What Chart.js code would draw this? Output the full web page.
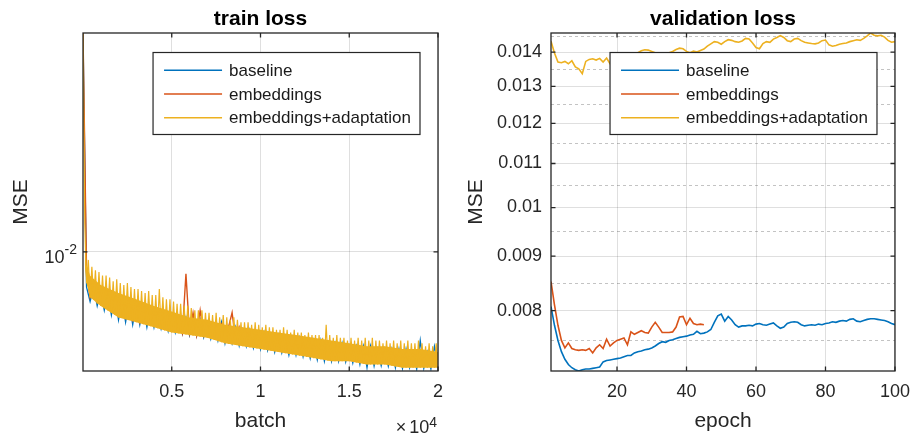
<!DOCTYPE html>
<html>
<head>
<meta charset="utf-8">
<title>train loss / validation loss</title>
<script src="https://cdn.jsdelivr.net/npm/chart.js@4.4.1/dist/chart.umd.min.js"></script>
<style>
  html, body { margin: 0; padding: 0; background: #fff; }
  #wrap { position: relative; width: 920px; height: 437px; }
  canvas { position: absolute; top: 0; }
  #train-loss { left: 0; }
  #val-loss { left: 460px; }
</style>
</head>
<body>
<div id="wrap">
  <canvas id="train-loss" width="460" height="437"></canvas>
  <canvas id="val-loss" width="460" height="437"></canvas>
</div>
<script>
const SERIES = ["baseline", "embeddings", "embeddings+adaptation"];
const COLORS = ["#0072BD", "#D95319", "#EDB120"];
const AXIS_COLOR = "#262626";
const GRID_COLOR = "rgba(38, 38, 38, 0.15)";
const MINOR_GRID_COLOR = "rgba(38, 38, 38, 0.28)";
const FONT = '"Liberation Sans", Arial, Helvetica, sans-serif';

// train loss, sampled every 200 batches (baseline, embeddings) / 100 batches (adaptation)
const trainStep = 200;
const trainStepAdapt = 100;
const trainBaseline = [
  0.0400, 0.0080, 0.0073, 0.0080, 0.0071, 0.0078, 0.0069, 0.0077, 0.0067, 0.0076,
  0.0065, 0.0074, 0.0064, 0.0073, 0.0063, 0.0072, 0.0063, 0.0071, 0.0062, 0.0070,
  0.0062, 0.0069, 0.00615, 0.0068, 0.00605, 0.0067, 0.0060, 0.0066, 0.00595, 0.0066,
  0.0059, 0.0065, 0.00587, 0.0065, 0.00582, 0.0064, 0.00576, 0.0063, 0.0057, 0.0064,
  0.0056, 0.0062, 0.0056, 0.0062, 0.00552, 0.0061, 0.0055, 0.0061, 0.00544, 0.0060,
  0.0054, 0.0060, 0.00536, 0.0059, 0.0053, 0.0059, 0.00528, 0.0058, 0.0052, 0.0058,
  0.0052, 0.0058, 0.00515, 0.0057, 0.0051, 0.0057, 0.00505, 0.0057, 0.0050, 0.0056,
  0.0050, 0.0056, 0.0050, 0.0056, 0.00498, 0.0055, 0.00495, 0.0055, 0.0049, 0.0055,
  0.0048, 0.0055, 0.00485, 0.0054, 0.00486, 0.0054, 0.00485, 0.0054, 0.0048, 0.0054,
  0.00478, 0.0054, 0.0048, 0.0053, 0.00476, 0.0057, 0.00478, 0.0053, 0.00476, 0.0055,
  0.0049,
];
const trainEmbeddings = [
  0.0400, 0.0088, 0.0075, 0.0080, 0.0073, 0.0077, 0.0071, 0.0076, 0.0069, 0.0075,
  0.0067, 0.0073, 0.0066, 0.0072, 0.0065, 0.0071, 0.0064, 0.0070, 0.0064, 0.0069,
  0.0063, 0.0068, 0.0062, 0.0067, 0.0062, 0.0066, 0.0061, 0.0066, 0.0060, 0.0087,
  0.0060, 0.0068, 0.0059, 0.0069, 0.0059, 0.0064, 0.0059, 0.0063, 0.0058, 0.0063,
  0.0057, 0.0062, 0.0068, 0.0057, 0.0062, 0.0057,
];
const trainAdaptation = [
  0.0400, 0.0120, 0.0082, 0.0095, 0.0075, 0.0091, 0.0074, 0.0089, 0.0072, 0.0088,
  0.0071, 0.0086, 0.0070, 0.0086, 0.0069, 0.0085, 0.0068, 0.0083, 0.0067, 0.0084,
  0.0066, 0.0082, 0.00658, 0.0081, 0.00654, 0.0082, 0.0065, 0.0080, 0.00645, 0.0079,
  0.0064, 0.0079, 0.00636, 0.0078, 0.00632, 0.0077, 0.00628, 0.0078, 0.00624, 0.0076,
  0.0062, 0.0076, 0.00616, 0.0079, 0.00612, 0.0075, 0.00608, 0.0074, 0.00604, 0.0074,
  0.0060, 0.0073, 0.00598, 0.0072, 0.00596, 0.0072, 0.00594, 0.0071, 0.00592, 0.0071,
  0.0059, 0.0070, 0.00588, 0.0069, 0.00586, 0.0069, 0.00584, 0.0069, 0.00582, 0.0068,
  0.0058, 0.0068, 0.00576, 0.0067, 0.00572, 0.0068, 0.00568, 0.0066, 0.00564, 0.0067,
  0.0056, 0.0066, 0.00558, 0.0065, 0.00556, 0.0066, 0.00554, 0.0065, 0.00552, 0.0064,
  0.0055, 0.0064, 0.00548, 0.0064, 0.00546, 0.0063, 0.00544, 0.0064, 0.00542, 0.0063,
  0.0054, 0.0062, 0.00538, 0.0063, 0.00536, 0.0062, 0.00534, 0.0062, 0.00532, 0.0061,
  0.0053, 0.0061, 0.00528, 0.0062, 0.00526, 0.0061, 0.00524, 0.0060, 0.00522, 0.0061,
  0.0052, 0.0060, 0.00518, 0.0060, 0.00516, 0.0059, 0.00514, 0.0060, 0.00512, 0.0059,
  0.0051, 0.0059, 0.00508, 0.0059, 0.00506, 0.0058, 0.00504, 0.0063, 0.00502, 0.0059,
  0.0050, 0.0058, 0.0050, 0.0059, 0.0050, 0.0058, 0.0050, 0.0058, 0.0050, 0.0057,
  0.0050, 0.0058, 0.00498, 0.0057, 0.00496, 0.0058, 0.00494, 0.0057, 0.00492, 0.0058,
  0.0049, 0.0057, 0.0049, 0.0058, 0.0049, 0.0057, 0.0049, 0.0057, 0.0049, 0.0056,
  0.0049, 0.0057, 0.00488, 0.0056, 0.00486, 0.0057, 0.00484, 0.0056, 0.00482, 0.0057,
  0.0048, 0.0056, 0.0048, 0.0057, 0.0048, 0.0056, 0.0048, 0.0056, 0.0048, 0.0057,
  0.0048, 0.0056, 0.0048, 0.0055, 0.0048, 0.0056, 0.0048, 0.0055, 0.0048, 0.0056,
  0.0048,
];
// dense core of the adaptation curve (lower / upper edge of the solid band)
const trainBandBatch = [100, 200, 400, 1000, 2000, 3000, 4000, 5000, 6000, 7000, 8000, 9000,
  10000, 11000, 12000, 13000, 14000, 15000, 16000, 17000, 18000, 19000, 20000];
const trainBandLow = [0.0092, 0.0082, 0.0075, 0.0071, 0.0066, 0.0064, 0.0062, 0.0060, 0.0059, 0.0058, 0.0056, 0.0055,
  0.0054, 0.0053, 0.0052, 0.0051, 0.0050, 0.0050, 0.0049, 0.0049, 0.0048, 0.0048, 0.0048];
const trainBandHigh = [0.0110, 0.0092, 0.0086, 0.0081, 0.0077, 0.0074, 0.0071, 0.00685, 0.0066, 0.0065, 0.0063, 0.0062,
  0.0061, 0.0060, 0.0059, 0.0058, 0.0057, 0.0056, 0.0055, 0.0055, 0.0054, 0.0054, 0.0053];
const trainXTicks = [5000, 10000, 15000, 20000];
const trainYTicks = [0.01];

// validation loss per epoch
const epochs = Array.from({ length: 100 }, (_, i) => i + 1);
const valBaseline = [
  0.00807, 0.00775, 0.00750, 0.00732, 0.00720, 0.00712, 0.00707, 0.00704, 0.00702, 0.00704,
  0.00705, 0.00705, 0.00706, 0.00707, 0.00708, 0.00716, 0.00718, 0.00719, 0.00720, 0.00721,
  0.00722, 0.00724, 0.00726, 0.00726, 0.00730, 0.00732, 0.00733, 0.00735, 0.00736, 0.00738,
  0.00741, 0.00745, 0.00748, 0.00747, 0.00750, 0.00751, 0.00753, 0.00755, 0.00756, 0.00757,
  0.00759, 0.00760, 0.00765, 0.00761, 0.00762, 0.00764, 0.00768, 0.00780, 0.00791, 0.00794,
  0.00782, 0.00790, 0.00784, 0.00776, 0.00772, 0.00774, 0.00774, 0.00775, 0.00774, 0.00777,
  0.00778, 0.00776, 0.00775, 0.00777, 0.00779, 0.00774, 0.00770, 0.00772, 0.00778, 0.00780,
  0.00781, 0.00780, 0.00776, 0.00774, 0.00775, 0.00776, 0.00775, 0.00777, 0.00776, 0.00778,
  0.00779, 0.00781, 0.00780, 0.00782, 0.00783, 0.00782, 0.00785, 0.00786, 0.00782, 0.00781,
  0.00783, 0.00785, 0.00786, 0.00786, 0.00785, 0.00784, 0.00783, 0.00781, 0.00778, 0.00776,
];
const valEmbeddings = [
  0.00852, 0.00810, 0.00775, 0.00750, 0.00738, 0.00746, 0.00737, 0.00735, 0.00734, 0.00735,
  0.00734, 0.00737, 0.00730, 0.00738, 0.00743, 0.00737, 0.00752, 0.00741, 0.00746, 0.00750,
  0.00752, 0.00754, 0.00743, 0.00764, 0.00760, 0.00763, 0.00766, 0.00763, 0.00762, 0.00772,
  0.00780, 0.00772, 0.00763, 0.00763, 0.00763, 0.00764, 0.00772, 0.00789, 0.00790, 0.00776,
  0.00787, 0.00778, 0.00776, 0.00777, 0.00776,
];
const valAdaptation = [
  0.01433, 0.01397, 0.01370, 0.01368, 0.01372, 0.01365, 0.01374, 0.01356, 0.01350, 0.01336,
  0.01372, 0.01378, 0.01380, 0.01376, 0.01381, 0.01370, 0.01382, 0.01365, 0.01352, 0.01368,
  0.01375, 0.01380, 0.01372, 0.01385, 0.01392, 0.01398, 0.01404, 0.01407, 0.01406, 0.01402,
  0.01398, 0.01396, 0.01392, 0.01395, 0.01398, 0.01402, 0.01408, 0.01412, 0.01410, 0.01402,
  0.01398, 0.01403, 0.01400, 0.01405, 0.01409, 0.01418, 0.01425, 0.01432, 0.01430, 0.01424,
  0.01432, 0.01438, 0.01436, 0.01432, 0.01430, 0.01434, 0.01442, 0.01440, 0.01428, 0.01414,
  0.01410, 0.01426, 0.01432, 0.01430, 0.01440, 0.01445, 0.01451, 0.01445, 0.01435, 0.01432,
  0.01440, 0.01442, 0.01435, 0.01430, 0.01428, 0.01426, 0.01425, 0.01428, 0.01435, 0.01437,
  0.01422, 0.01418, 0.01420, 0.01424, 0.01426, 0.01428, 0.01432, 0.01435, 0.01438, 0.01436,
  0.01442, 0.01450, 0.01459, 0.01452, 0.01450, 0.01452, 0.01446, 0.01436, 0.01430, 0.01432,
];
const valXTicks = [20, 40, 60, 80, 100];
const valYTicks = [0.008, 0.009, 0.01, 0.011, 0.012, 0.013, 0.014];
const valYMinorTicks = [0.0075, 0.0085, 0.0095, 0.0105, 0.0115, 0.0125, 0.0135, 0.0145];

const batches = (step, n) => Array.from({ length: n }, (_, i) => i * step);
const toPoints = (xs, ys) => ys.map((y, i) => ({ x: xs[i], y }));

// MATLAB-looking decorations: box, inward ticks, legend inside, title, 10^n labels
const matlabAxes = (cfg) => ({
  id: "matlabAxes",
  beforeDatasetsDraw(chart) {
    if (!cfg.minorY) return;
    const { ctx, chartArea: a, scales } = chart;
    ctx.save();
    ctx.strokeStyle = MINOR_GRID_COLOR;
    ctx.lineWidth = 1;
    ctx.setLineDash([3, 3]);
    cfg.minorY.forEach((v) => {
      const py = Math.round(scales.y.getPixelForValue(v)) + 0.5;
      ctx.beginPath();
      ctx.moveTo(a.left, py);
      ctx.lineTo(a.right, py);
      ctx.stroke();
    });
    ctx.restore();
  },
  afterDraw(chart) {
    const { ctx, chartArea: a, scales, data } = chart;
    const shown = data.datasets.filter((d) => SERIES.includes(d.label));
    ctx.save();

    // legend
    ctx.font = `17px ${FONT}`;
    const textW = Math.max(...shown.map((d) => ctx.measureText(d.label).width));
    const w = 76 + textW + 9;
    const h = 82;
    const lx = a.right - 18 - w;
    const ly = a.top + 19.5;
    ctx.fillStyle = "#fff";
    ctx.fillRect(lx, ly, w, h);
    ctx.strokeStyle = AXIS_COLOR;
    ctx.lineWidth = 1.2;
    ctx.strokeRect(lx, ly, w, h);
    shown.forEach((d, i) => {
      const cy = ly + 17.7 + i * 23.8;
      ctx.strokeStyle = d.borderColor;
      ctx.lineWidth = 1.5;
      ctx.beginPath();
      ctx.moveTo(lx + 11, cy);
      ctx.lineTo(lx + 69, cy);
      ctx.stroke();
      ctx.fillStyle = "#1a1a1a";
      ctx.textAlign = "left";
      ctx.textBaseline = "middle";
      ctx.fillText(d.label, lx + 76, cy + 1);
    });

    // box and inward tick marks
    ctx.strokeStyle = AXIS_COLOR;
    ctx.lineWidth = 1.3;
    ctx.strokeRect(a.left, a.top, a.right - a.left, a.bottom - a.top);
    const tl = 4.5;
    ctx.beginPath();
    scales.x.ticks.forEach((t) => {
      const px = scales.x.getPixelForValue(t.value);
      ctx.moveTo(px, a.bottom);
      ctx.lineTo(px, a.bottom - tl);
      ctx.moveTo(px, a.top);
      ctx.lineTo(px, a.top + tl);
    });
    scales.y.ticks.forEach((t) => {
      const py = scales.y.getPixelForValue(t.value);
      ctx.moveTo(a.left, py);
      ctx.lineTo(a.left + tl, py);
      ctx.moveTo(a.right, py);
      ctx.lineTo(a.right - tl, py);
    });
    ctx.stroke();

    // title
    ctx.fillStyle = "#000";
    ctx.font = `bold 21px ${FONT}`;
    ctx.textAlign = "center";
    ctx.textBaseline = "alphabetic";
    ctx.fillText(cfg.title, (a.left + a.right) / 2, a.top - 8.5);

    // 10^n tick labels on the log y axis
    ctx.fillStyle = AXIS_COLOR;
    if (cfg.powerY) {
      scales.y.ticks.forEach((t) => {
        const py = scales.y.getPixelForValue(t.value);
        const sup = String(Math.round(Math.log10(t.value)));
        ctx.textAlign = "right";
        ctx.font = `14px ${FONT}`;
        const supW = ctx.measureText(sup).width;
        ctx.fillText(sup, a.left - 6, py + 2);
        ctx.font = `18px ${FONT}`;
        ctx.fillText("10", a.left - 6 - supW, py + 11.5);
      });
    }

    // x10^4 multiplier under the x axis
    if (cfg.powerX) {
      const base = a.bottom + 62;
      ctx.textAlign = "right";
      ctx.font = `14px ${FONT}`;
      ctx.fillText(cfg.powerX, a.right - 1, base - 6);
      const supW = ctx.measureText(cfg.powerX).width;
      ctx.font = `18px ${FONT}`;
      ctx.fillText("10", a.right - 1 - supW, base);
      const tenW = ctx.measureText("10").width;
      ctx.fillText("\u00d7", a.right - 1 - supW - tenW - 3, base);
    }
    ctx.restore();
  },
});

const tickFont = { family: FONT, size: 18 };
const labelFont = { family: FONT, size: 21 };

const lineSet = (i, points, width, order) => ({
  label: SERIES[i],
  data: points,
  borderColor: COLORS[i],
  backgroundColor: COLORS[i],
  borderWidth: width,
  pointRadius: 0,
  tension: 0,
  fill: false,
  order: order,
});

new Chart(document.getElementById("train-loss"), {
  type: "line",
  data: {
    datasets: [
      lineSet(0, toPoints(batches(trainStep, trainBaseline.length), trainBaseline), 1.3, 5),
      lineSet(1, toPoints(batches(trainStep, trainEmbeddings.length), trainEmbeddings), 1.4, 4),
      lineSet(2, toPoints(batches(trainStepAdapt, trainAdaptation.length), trainAdaptation), 1.2, 1),
      {
        label: "",
        data: toPoints(trainBandBatch, trainBandLow),
        borderWidth: 0,
        borderColor: "rgba(0,0,0,0)",
        pointRadius: 0,
        fill: false,
        order: 2,
      },
      {
        label: "",
        data: toPoints(trainBandBatch, trainBandHigh),
        borderWidth: 0,
        borderColor: "rgba(0,0,0,0)",
        backgroundColor: COLORS[2],
        pointRadius: 0,
        fill: "-1",
        order: 2,
      },
    ],
  },
  options: {
    responsive: false,
    animation: false,
    events: [],
    layout: { padding: { top: 33, right: 22, left: 0, bottom: 0 } },
    plugins: { legend: { display: false }, tooltip: { enabled: false } },
    scales: {
      x: {
        type: "linear",
        min: 0,
        max: 20000,
        afterFit: (s) => { s.height = 66; },
        afterBuildTicks: (s) => { s.ticks = trainXTicks.map((value) => ({ value })); },
        grid: { color: GRID_COLOR, drawTicks: false },
        border: { display: false },
        ticks: {
          color: AXIS_COLOR, font: tickFont, padding: 10, maxRotation: 0, autoSkip: false,
          callback: (v) => String(v / 1e4),
        },
        title: { display: true, text: "batch", color: AXIS_COLOR, font: labelFont, padding: { top: 0, bottom: 2.7 } },
      },
      y: {
        type: "logarithmic",
        min: 0.0047,
        max: 0.040,
        afterFit: (s) => { s.width = 83; },
        afterBuildTicks: (s) => { s.ticks = trainYTicks.map((value) => ({ value })); },
        grid: { color: GRID_COLOR, drawTicks: false },
        border: { display: false },
        ticks: { display: false },
        title: { display: true, text: "MSE", color: AXIS_COLOR, font: labelFont, padding: { top: 8.2, bottom: 0 } },
      },
    },
  },
  plugins: [matlabAxes({ title: "train loss", powerY: true, powerX: "4" })],
});

new Chart(document.getElementById("val-loss"), {
  type: "line",
  data: {
    datasets: [
      lineSet(0, toPoints(epochs, valBaseline), 1.6, 3),
      lineSet(1, toPoints(epochs, valEmbeddings), 1.6, 2),
      lineSet(2, toPoints(epochs, valAdaptation), 1.6, 1),
    ],
  },
  options: {
    responsive: false,
    animation: false,
    events: [],
    layout: { padding: { top: 33, right: 15, left: 0, bottom: 0 } },
    plugins: { legend: { display: false }, tooltip: { enabled: false } },
    scales: {
      x: {
        type: "linear",
        min: 1,
        max: 100,
        afterFit: (s) => { s.height = 66; },
        afterBuildTicks: (s) => { s.ticks = valXTicks.map((value) => ({ value })); },
        grid: { color: GRID_COLOR, drawTicks: false },
        border: { display: false },
        ticks: { color: AXIS_COLOR, font: tickFont, padding: 10, maxRotation: 0, autoSkip: false },
        title: { display: true, text: "epoch", color: AXIS_COLOR, font: labelFont, padding: { top: 0, bottom: 2.7 } },
      },
      y: {
        type: "logarithmic",
        min: 0.00702,
        max: 0.01459,
        afterFit: (s) => { s.width = 91; },
        afterBuildTicks: (s) => { s.ticks = valYTicks.map((value) => ({ value })); },
        grid: { color: GRID_COLOR, drawTicks: false },
        border: { display: false },
        ticks: { color: AXIS_COLOR, font: tickFont, padding: 9, callback: (v) => String(v) },
        title: { display: true, text: "MSE", color: AXIS_COLOR, font: labelFont, padding: { top: 4.1, bottom: 0 } },
      },
    },
  },
  plugins: [matlabAxes({ title: "validation loss", minorY: valYMinorTicks })],
});
</script>
</body>
</html>
